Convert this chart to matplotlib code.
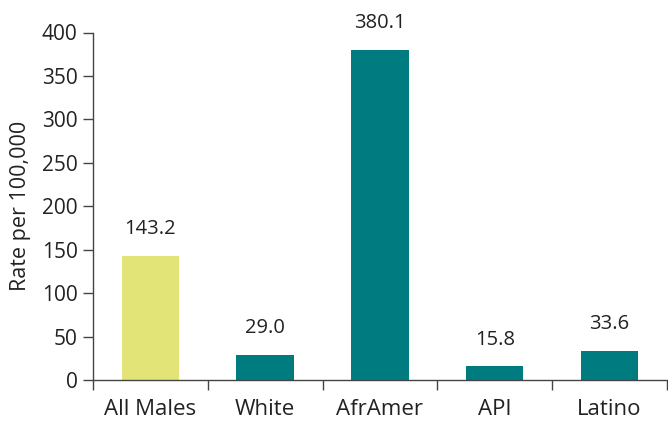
import matplotlib
matplotlib.use("Agg")
import matplotlib.pyplot as plt
import numpy as np

categories = ["All Males", "White", "AfrAmer", "API", "Latino"]
values = [143.2, 29.0, 380.1, 15.8, 33.6]
value_labels = ["143.2", "29.0", "380.1", "15.8", "33.6"]
colors = ["#e2e478", "#007b7f", "#007b7f", "#007b7f", "#007b7f"]
yticks = [0, 50, 100, 150, 200, 250, 300, 350, 400]

plt.rcParams['font.family'] = ['Open Sans', 'DejaVu Sans']

fig = plt.figure(figsize=(6.68, 4.26), dpi=100)
ax = fig.add_axes([93/668, 46/426, 574/668, 347.5/426])

x = np.arange(len(categories))
ax.bar(x, values, width=0.5, color=colors, zorder=2)
for xi, v, lab in zip(x, values, value_labels):
    ax.annotate(lab, (xi, v), xytext=(0, 12), textcoords="offset points",
                ha="center", va="bottom", fontsize=14.5, color="#222222")

ax.set_xlim(-0.5, len(categories) - 0.5)
ax.set_ylim(0, 400)
ax.set_yticks(yticks)
ax.set_yticklabels([str(t) for t in yticks])
ax.set_xticks(x)
ax.set_xticklabels(categories)
ax.set_xticks(np.arange(len(categories) + 1) - 0.5, minor=True)
ax.tick_params(axis='x', which='major', length=0, pad=14, labelsize=16, labelcolor="#222222")
ax.tick_params(axis='x', which='minor', length=7, direction='out', color="#444444", width=1)
ax.tick_params(axis='y', length=7, direction='out', color="#444444", width=1, labelsize=15, labelcolor="#222222", pad=4)

for s in ["top", "right"]:
    ax.spines[s].set_visible(False)
for s in ["left", "bottom"]:
    ax.spines[s].set_color("#444444")
    ax.spines[s].set_linewidth(1)

ax.set_ylabel("Rate per 100,000", fontsize=15.5, color="#222222", labelpad=8)

fig.savefig("out.png", dpi=100)
